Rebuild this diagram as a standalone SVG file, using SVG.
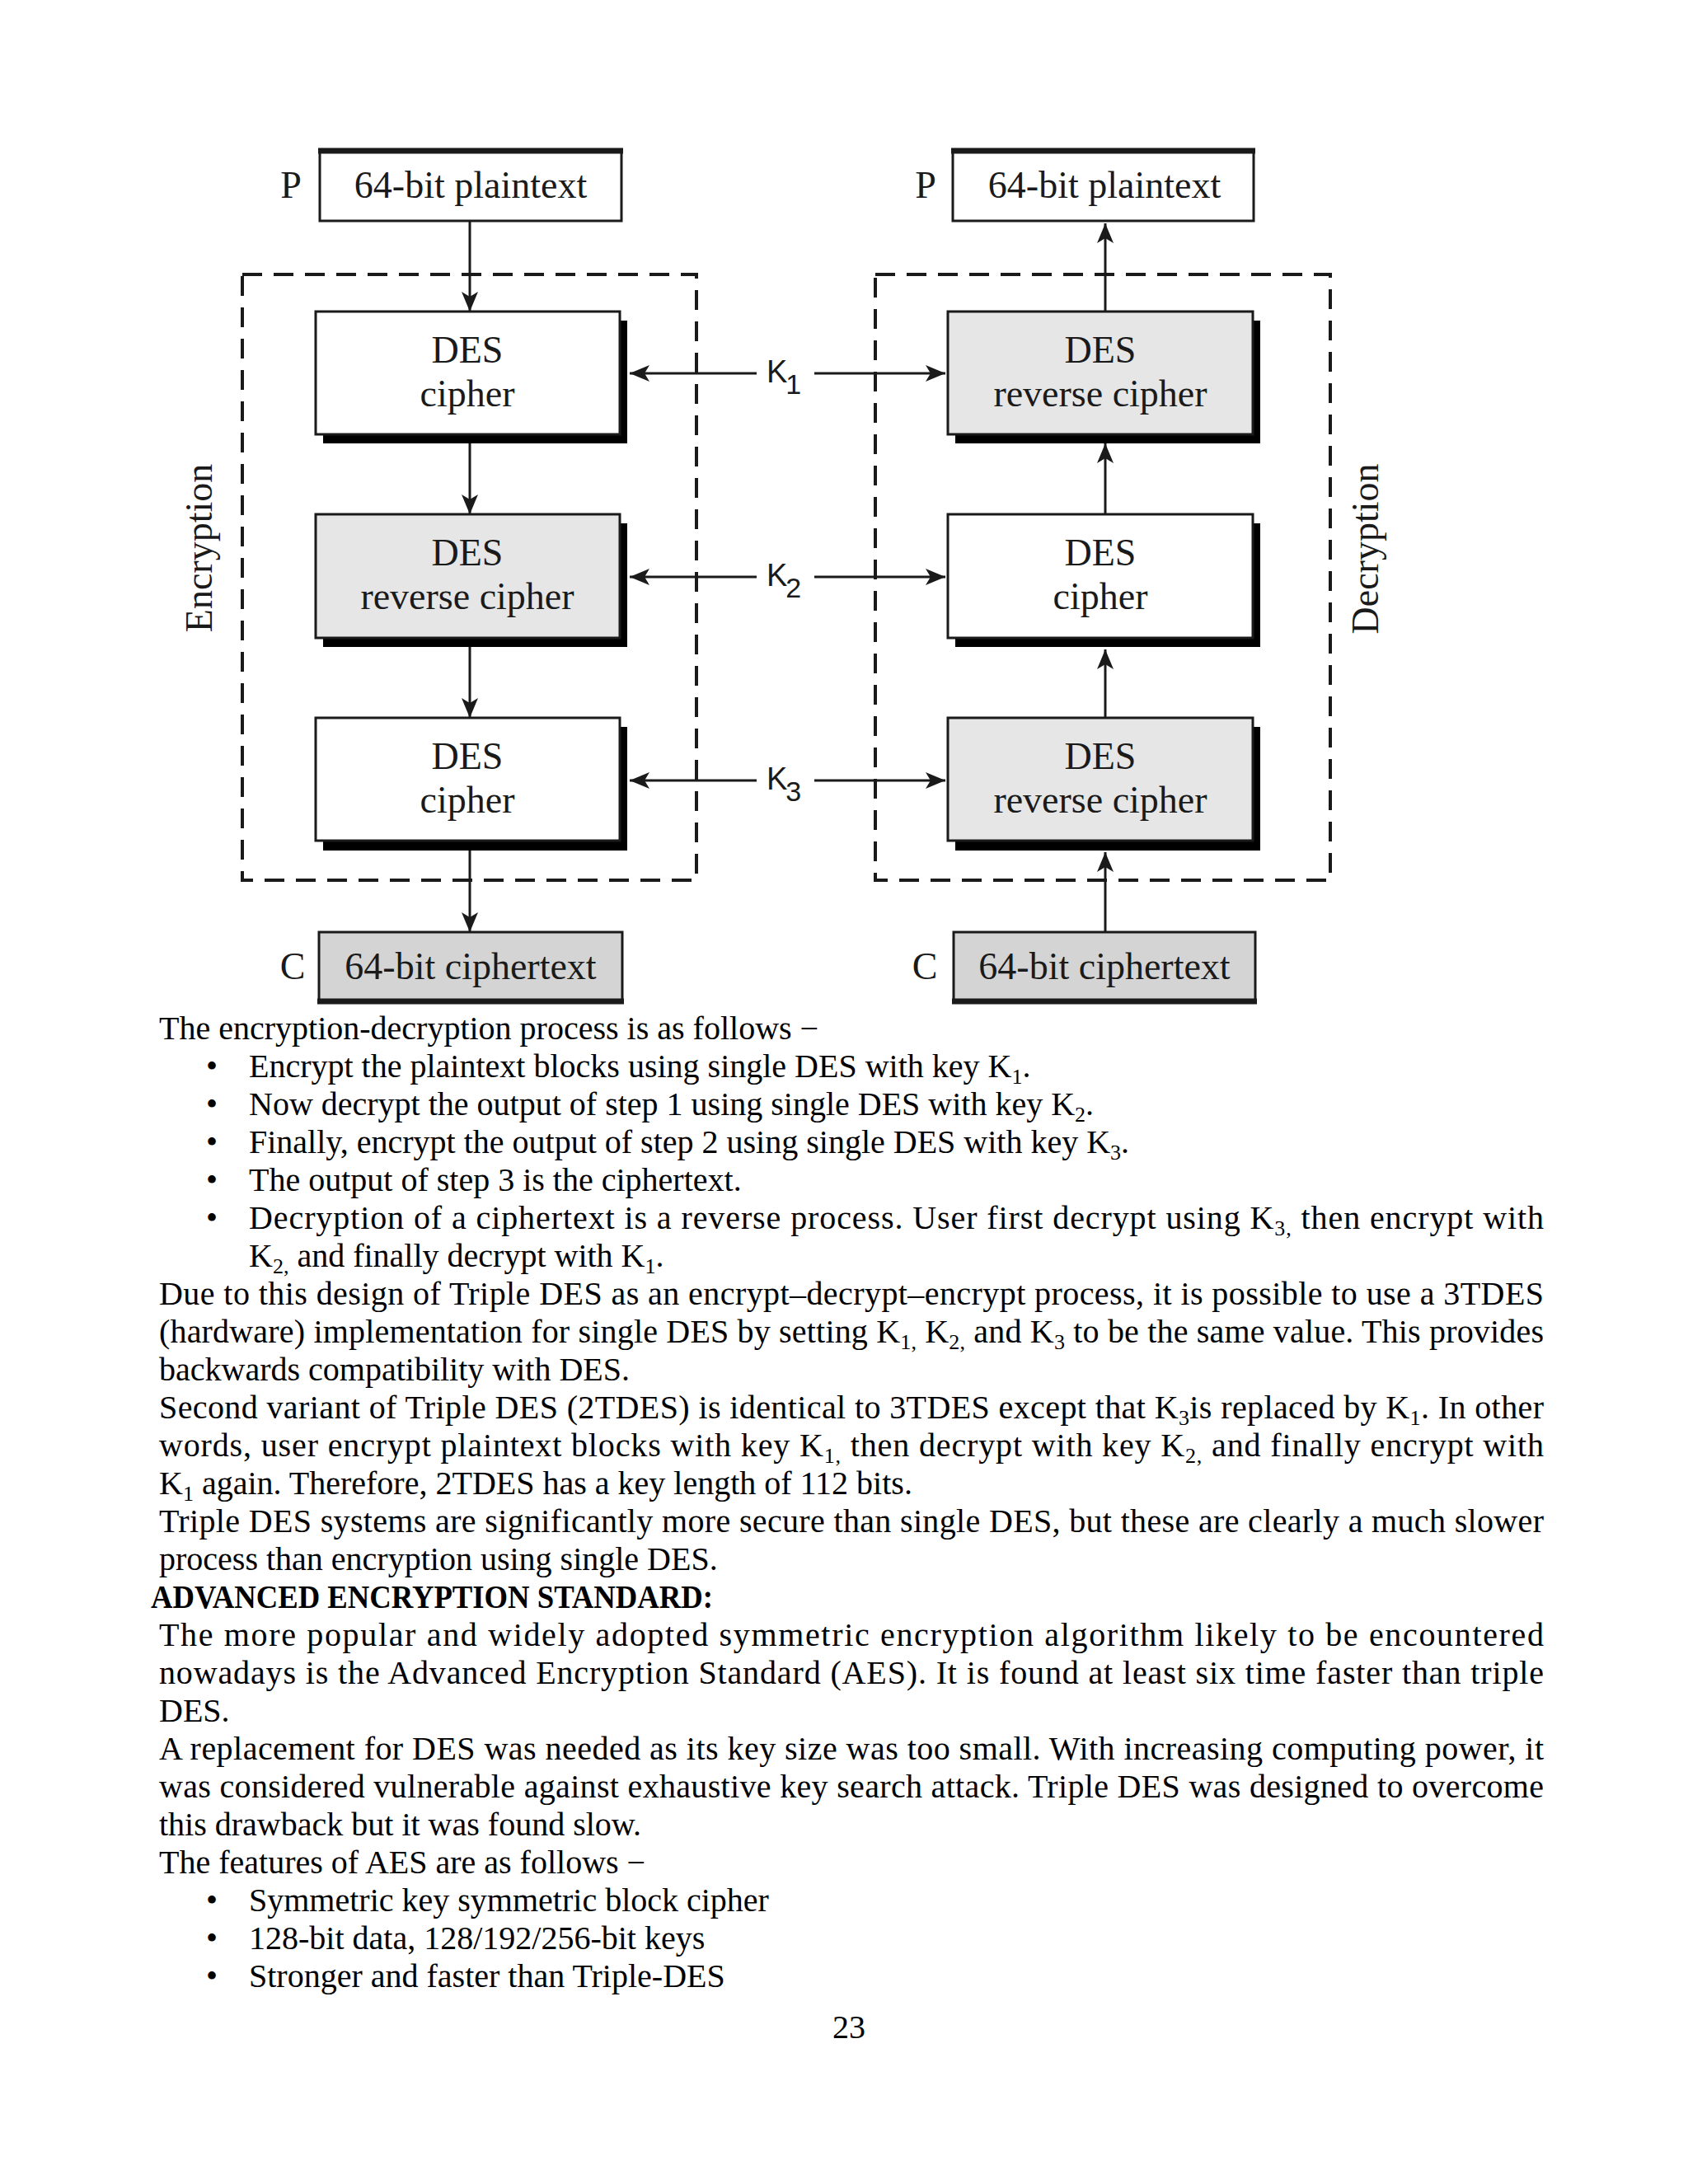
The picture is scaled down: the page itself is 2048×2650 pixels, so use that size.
<svg xmlns="http://www.w3.org/2000/svg" width="2048" height="2650" viewBox="0 0 2048 2650">
<style>
.bg{fill:#fff}
.box{fill:#fff;stroke:#1a1a1a;stroke-width:3}
.grey{fill:#e6e6e6}
.cgrey{fill:#d4d4d4}
.shadow{fill:#000}
.thick{stroke:#1a1a1a;stroke-width:7}
.dash{fill:none;stroke:#1a1a1a;stroke-width:4;stroke-dasharray:24 14}
.conn{stroke:#1a1a1a;stroke-width:3;fill:none}
.dt{font-family:"Liberation Serif","Times New Roman",serif;font-size:46px;fill:#1a1a1a;text-anchor:middle}
.side{font-family:"Liberation Serif","Times New Roman",serif;font-size:46px;fill:#1a1a1a;text-anchor:middle}
.key{font-family:"Liberation Sans",Arial,sans-serif;font-size:38px;fill:#1a1a1a}
.body{font-family:"Liberation Serif","Times New Roman",serif;font-size:40px;fill:#000}
.s{font-size:26px}
.h{font-family:"Liberation Serif","Times New Roman",serif;font-size:40px;font-weight:bold;fill:#000}
</style>
<defs>
<marker id="ah" viewBox="0 0 24 20" refX="24" refY="10" markerWidth="24" markerHeight="20" markerUnits="userSpaceOnUse" orient="auto">
<path d="M0,0 L24,10 L0,20 L6,10 z" fill="#1a1a1a"/>
</marker>
</defs>
<rect class="bg" x="0" y="0" width="2048" height="2650"/>

<g id="groups">
<rect id="enc-group" class="dash" x="294" y="333" width="551" height="735"/>
<rect id="dec-group" class="dash" x="1062" y="333" width="552" height="735"/>
<text class="side" transform="translate(257,665) rotate(-90)">Encryption</text>
<text class="side" transform="translate(1672,666) rotate(-90)">Decryption</text>
</g>

<g id="connectors">
<line class="conn" x1="570" y1="268" x2="570" y2="378" marker-end="url(#ah)"/>
<line class="conn" x1="570" y1="538" x2="570" y2="624" marker-end="url(#ah)"/>
<line class="conn" x1="570" y1="785" x2="570" y2="871" marker-end="url(#ah)"/>
<line class="conn" x1="570" y1="1032" x2="570" y2="1131" marker-end="url(#ah)"/>
<line class="conn" x1="1341" y1="378" x2="1341" y2="271" marker-end="url(#ah)"/>
<line class="conn" x1="1341" y1="624" x2="1341" y2="538" marker-end="url(#ah)"/>
<line class="conn" x1="1341" y1="871" x2="1341" y2="788" marker-end="url(#ah)"/>
<line class="conn" x1="1341" y1="1131" x2="1341" y2="1034" marker-end="url(#ah)"/>
<line class="conn" x1="918" y1="453" x2="764" y2="453" marker-end="url(#ah)"/>
<line class="conn" x1="988" y1="453" x2="1147" y2="453" marker-end="url(#ah)"/>
<line class="conn" x1="918" y1="700" x2="764" y2="700" marker-end="url(#ah)"/>
<line class="conn" x1="988" y1="700" x2="1147" y2="700" marker-end="url(#ah)"/>
<line class="conn" x1="918" y1="947" x2="764" y2="947" marker-end="url(#ah)"/>
<line class="conn" x1="988" y1="947" x2="1147" y2="947" marker-end="url(#ah)"/>
<text class="key" x="930" y="464">K<tspan dy="14" dx="-2" font-size="34">1</tspan></text>
<text class="key" x="930" y="711">K<tspan dy="14" dx="-2" font-size="34">2</tspan></text>
<text class="key" x="930" y="958">K<tspan dy="14" dx="-2" font-size="34">3</tspan></text>
</g>

<g id="enc-plain">
<rect class="box" x="388" y="182" width="366" height="86"/>
<line class="thick" x1="386" y1="183" x2="756" y2="183"/>
<text class="dt" x="353" y="240">P</text>
<text class="dt" x="571" y="240">64-bit plaintext</text>
</g>
<g id="enc-des1">
<rect class="shadow" x="392" y="389" width="369" height="149"/>
<rect class="box" x="383" y="378" width="369" height="149"/>
<text class="dt" x="567" y="440">DES</text>
<text class="dt" x="567" y="493">cipher</text>
</g>
<g id="enc-des2">
<rect class="shadow" x="392" y="635" width="369" height="150"/>
<rect class="box grey" x="383" y="624" width="369" height="150"/>
<text class="dt" x="567" y="686">DES</text>
<text class="dt" x="567" y="739">reverse cipher</text>
</g>
<g id="enc-des3">
<rect class="shadow" x="392" y="882" width="369" height="150"/>
<rect class="box" x="383" y="871" width="369" height="149"/>
<text class="dt" x="567" y="933">DES</text>
<text class="dt" x="567" y="986">cipher</text>
</g>
<g id="enc-cipher">
<rect class="box cgrey" x="387" y="1131" width="368" height="85"/>
<line class="thick" x1="385" y1="1215" x2="757" y2="1215"/>
<text class="dt" x="355" y="1188">C</text>
<text class="dt" x="571" y="1188">64-bit ciphertext</text>
</g>

<g id="dec-plain">
<rect class="box" x="1156" y="182" width="365" height="86"/>
<line class="thick" x1="1154" y1="183" x2="1523" y2="183"/>
<text class="dt" x="1123" y="240">P</text>
<text class="dt" x="1340" y="240">64-bit plaintext</text>
</g>
<g id="dec-des1">
<rect class="shadow" x="1159" y="389" width="370" height="149"/>
<rect class="box grey" x="1150" y="378" width="370" height="149"/>
<text class="dt" x="1335" y="440">DES</text>
<text class="dt" x="1335" y="493">reverse cipher</text>
</g>
<g id="dec-des2">
<rect class="shadow" x="1159" y="635" width="370" height="150"/>
<rect class="box" x="1150" y="624" width="370" height="150"/>
<text class="dt" x="1335" y="686">DES</text>
<text class="dt" x="1335" y="739">cipher</text>
</g>
<g id="dec-des3">
<rect class="shadow" x="1159" y="882" width="370" height="150"/>
<rect class="box grey" x="1150" y="871" width="370" height="149"/>
<text class="dt" x="1335" y="933">DES</text>
<text class="dt" x="1335" y="986">reverse cipher</text>
</g>
<g id="dec-cipher">
<rect class="box cgrey" x="1157" y="1131" width="366" height="85"/>
<line class="thick" x1="1155" y1="1215" x2="1525" y2="1215"/>
<text class="dt" x="1122" y="1188">C</text>
<text class="dt" x="1340" y="1188">64-bit ciphertext</text>
</g>

<g id="body-text">
<text class="body" x="193" y="1261">The encryption-decryption process is as follows −</text>
<text class="body" x="257" y="1307" text-anchor="middle">•</text>
<text class="body" x="302" y="1307">Encrypt the plaintext blocks using single DES with key K<tspan class="s" dy="8">1</tspan><tspan dy="-8">.</tspan></text>
<text class="body" x="257" y="1353" text-anchor="middle">•</text>
<text class="body" x="302" y="1353">Now decrypt the output of step 1 using single DES with key K<tspan class="s" dy="8">2</tspan><tspan dy="-8">.</tspan></text>
<text class="body" x="257" y="1399" text-anchor="middle">•</text>
<text class="body" x="302" y="1399">Finally, encrypt the output of step 2 using single DES with key K<tspan class="s" dy="8">3</tspan><tspan dy="-8">.</tspan></text>
<text class="body" x="257" y="1445" text-anchor="middle">•</text>
<text class="body" x="302" y="1445">The output of step 3 is the ciphertext.</text>
<text class="body" x="257" y="1491" text-anchor="middle">•</text>
<text class="body" x="302" y="1491" textLength="1571">Decryption of a ciphertext is a reverse process. User first decrypt using K<tspan class="s" dy="8">3,</tspan><tspan dy="-8"> then encrypt with</tspan></text>
<text class="body" x="302" y="1537">K<tspan class="s" dy="8">2,</tspan><tspan dy="-8"> and finally decrypt with K</tspan><tspan class="s" dy="8">1</tspan><tspan dy="-8">.</tspan></text>
<text class="body" x="193" y="1583" textLength="1680">Due to this design of Triple DES as an encrypt–decrypt–encrypt process, it is possible to use a 3TDES</text>
<text class="body" x="193" y="1629" textLength="1680">(hardware) implementation for single DES by setting K<tspan class="s" dy="8">1,</tspan><tspan dy="-8"> K</tspan><tspan class="s" dy="8">2,</tspan><tspan dy="-8"> and K</tspan><tspan class="s" dy="8">3</tspan><tspan dy="-8"> to be the same value. This provides</tspan></text>
<text class="body" x="193" y="1675">backwards compatibility with DES.</text>
<text class="body" x="193" y="1721" textLength="1680">Second variant of Triple DES (2TDES) is identical to 3TDES except that K<tspan class="s" dy="8">3</tspan><tspan dy="-8">is replaced by K</tspan><tspan class="s" dy="8">1</tspan><tspan dy="-8">. In other</tspan></text>
<text class="body" x="193" y="1767" textLength="1680">words, user encrypt plaintext blocks with key K<tspan class="s" dy="8">1,</tspan><tspan dy="-8"> then decrypt with key K</tspan><tspan class="s" dy="8">2,</tspan><tspan dy="-8"> and finally encrypt with</tspan></text>
<text class="body" x="193" y="1813">K<tspan class="s" dy="8">1</tspan><tspan dy="-8"> again. Therefore, 2TDES has a key length of 112 bits.</tspan></text>
<text class="body" x="193" y="1859" textLength="1680">Triple DES systems are significantly more secure than single DES, but these are clearly a much slower</text>
<text class="body" x="193" y="1905">process than encryption using single DES.</text>
<text class="h" x="183" y="1951" textLength="682" lengthAdjust="spacingAndGlyphs">ADVANCED ENCRYPTION STANDARD:</text>
<text class="body" x="193" y="1997" textLength="1680">The more popular and widely adopted symmetric encryption algorithm likely to be encountered</text>
<text class="body" x="193" y="2043" textLength="1680">nowadays is the Advanced Encryption Standard (AES). It is found at least six time faster than triple</text>
<text class="body" x="193" y="2089">DES.</text>
<text class="body" x="193" y="2135" textLength="1680">A replacement for DES was needed as its key size was too small. With increasing computing power, it</text>
<text class="body" x="193" y="2181" textLength="1680">was considered vulnerable against exhaustive key search attack. Triple DES was designed to overcome</text>
<text class="body" x="193" y="2227">this drawback but it was found slow.</text>
<text class="body" x="193" y="2273">The features of AES are as follows −</text>
<text class="body" x="257" y="2319" text-anchor="middle">•</text>
<text class="body" x="302" y="2319">Symmetric key symmetric block cipher</text>
<text class="body" x="257" y="2365" text-anchor="middle">•</text>
<text class="body" x="302" y="2365">128-bit data, 128/192/256-bit keys</text>
<text class="body" x="257" y="2411" text-anchor="middle">•</text>
<text class="body" x="302" y="2411">Stronger and faster than Triple-DES</text>
<text class="body" x="1030" y="2473" text-anchor="middle">23</text>
</g>
</svg>
